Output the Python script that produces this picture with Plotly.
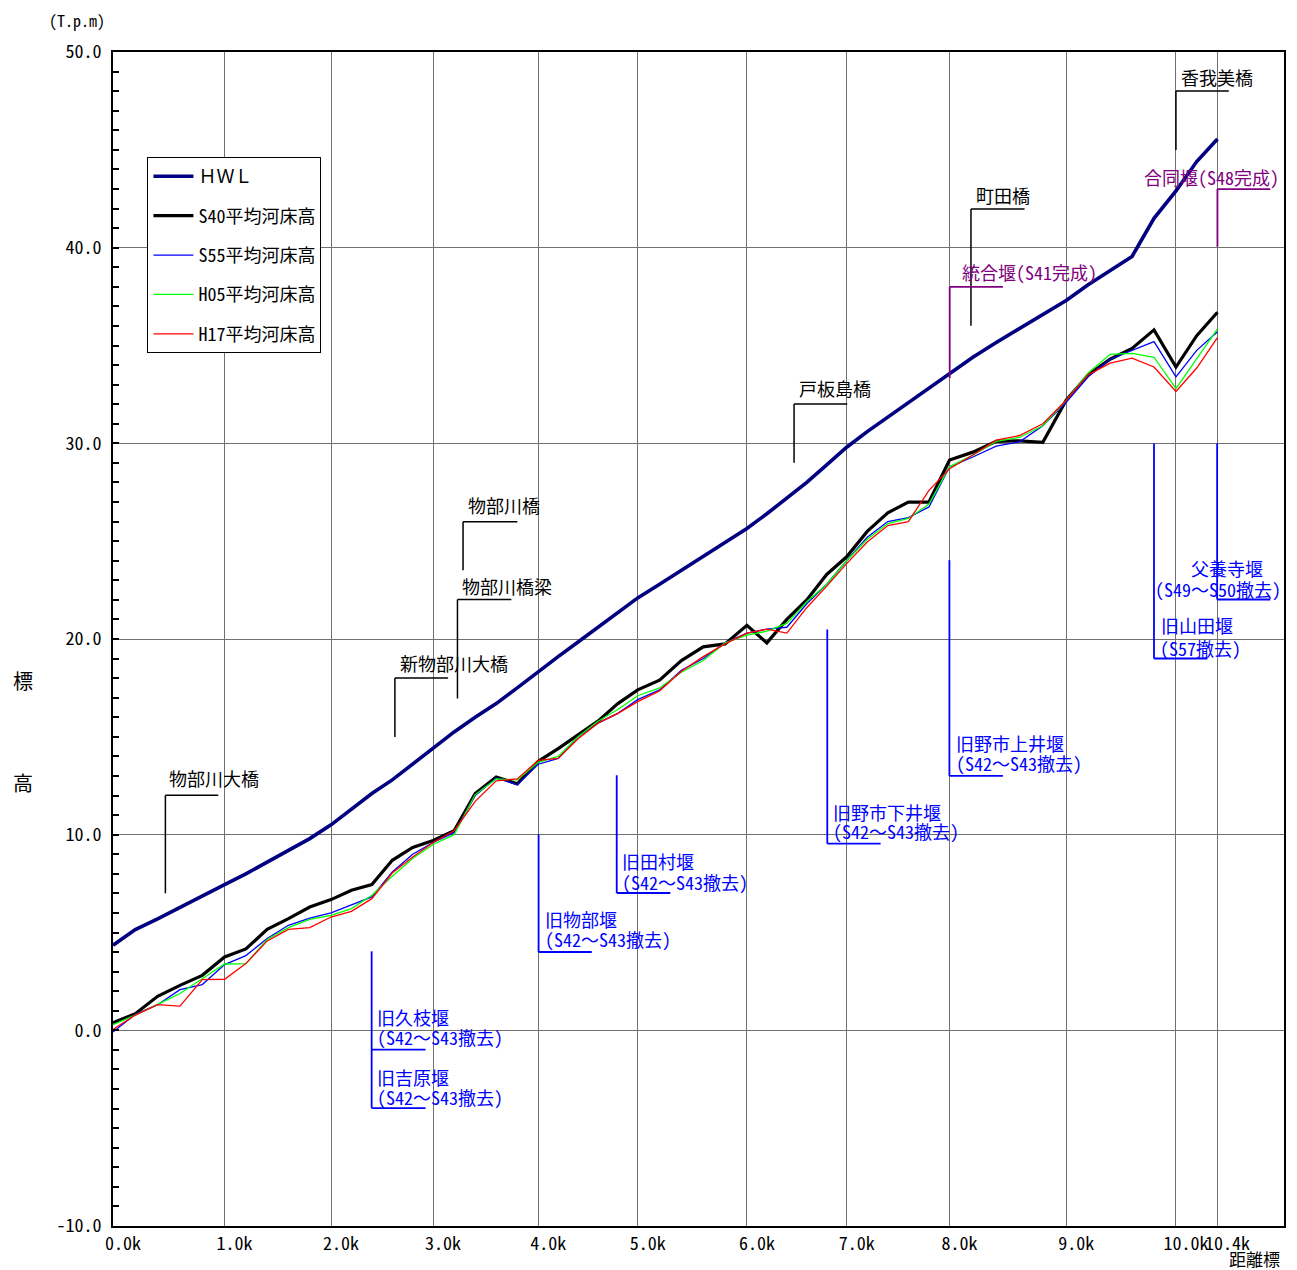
import numpy as np
import plotly.graph_objects as go

# ---------------- data ----------------
km_post = [0.0, 0.2, 0.4, 0.6, 0.8, 1.0, 1.2, 1.4, 1.6, 1.8, 2.0, 2.2, 2.4, 2.6, 2.8,
           3.0, 3.2, 3.4, 3.6, 3.8, 4.0, 4.2, 4.4, 4.6, 4.8, 5.0, 5.2, 5.4, 5.6, 5.8,
           6.0, 6.2, 6.4, 6.6, 6.8, 7.0, 7.2, 7.4, 7.6, 7.8, 8.0, 8.2, 8.4, 8.6, 8.8,
           9.0, 9.2, 9.4, 9.6, 9.8, 10.0, 10.2, 10.4]

hwl = [4.35, 5.15, 5.7, 6.3, 6.9, 7.45, 8.0, 8.6, 9.2, 9.8, 10.5, 11.3, 12.1, 12.8, 13.6,
       14.45, 15.25, 16.0, 16.7, 17.5, 18.35, 19.1, 19.85, 20.6, 21.4, 22.1, 22.8, 23.5, 24.2, 24.9,
       25.65, 26.4, 27.2, 28.0, 28.9, 29.8, 30.6, 31.35, 32.05, 32.8, 33.6, 34.4, 35.15, 35.85, 36.6,
       37.3, 38.1, 38.8, 39.55, 41.5, 42.9, 44.4, 45.55]

s40 = [0.39, 0.85, 1.74, 2.30, 2.81, 3.75, 4.16, 5.16, 5.71, 6.30, 6.68, 7.16, 7.45, 8.69, 9.35,
       9.7, 10.2, 12.1, 12.95, 12.6, 13.75, 14.4, 15.1, 15.8, 16.7, 17.4, 17.9, 18.9, 19.6, 19.75,
       20.7, 19.8, 21.0, 22.0, 23.3, 24.2, 25.5, 26.45, 27.0, 27.0, 29.15, 29.55, 30.1, 30.13, 30.05,
       32.2, 33.5, 34.3, 34.85, 35.8, 33.9, 35.5, 36.7]

s55 = [-0.09, 0.82, 1.31, 2.08, 2.34, 3.36, 3.82, 4.69, 5.37, 5.74, 6.0, 6.43, 6.82, 8.09, 9.0,
       9.6, 10.1, 12.0, 12.9, 12.55, 13.6, 13.9, 15.0, 15.7, 16.2, 16.9, 17.4, 18.4, 19.0, 19.8,
       20.3, 20.5, 20.6, 21.8, 22.8, 24.0, 25.2, 26.0, 26.2, 26.75, 28.8, 29.3, 29.86, 30.08, 30.9,
       32.1, 33.4, 34.3, 34.75, 35.2, 33.4, 34.75, 35.7]

h05 = [0.29, 0.78, 1.33, 1.88, 2.64, 3.39, 3.41, 4.64, 5.25, 5.67, 5.88, 6.22, 6.9, 7.87, 8.78,
       9.5, 10.0, 12.05, 12.85, 12.8, 13.7, 14.0, 15.0, 15.8, 16.4, 17.1, 17.5, 18.3, 18.9, 19.8,
       20.2, 20.4, 20.8, 21.9, 22.8, 24.0, 25.1, 25.9, 26.16, 26.9, 28.8, 29.4, 30.1, 30.3, 30.9,
       32.2, 33.6, 34.55, 34.6, 34.4, 32.8, 34.35, 35.85]

h17 = [0.04, 0.78, 1.31, 1.24, 2.59, 2.61, 3.41, 4.57, 5.16, 5.25, 5.79, 6.08, 6.73, 8.04, 8.86,
       9.6, 10.2, 11.7, 12.75, 12.85, 13.8, 13.9, 14.9, 15.7, 16.2, 16.8, 17.35, 18.35, 19.1, 19.75,
       20.3, 20.5, 20.3, 21.6, 22.7, 23.85, 24.96, 25.8, 26.0, 27.6, 28.7, 29.4, 30.16, 30.4, 31.0,
       32.2, 33.5, 34.1, 34.35, 33.9, 32.65, 33.85, 35.4]

# distance-post labels and their actual positions along the river (km)
tick_km = [0.0, 1.0, 2.0, 3.0, 4.0, 5.0, 6.0, 7.0, 8.0, 9.0, 10.0, 10.4]
tick_pos = [0.0, 1.065, 2.081, 3.055, 4.059, 5.008, 6.050, 7.002, 7.984, 9.097, 10.145, 10.541]
tick_text = ["0.0k", "1.0k", "2.0k", "3.0k", "4.0k", "5.0k", "6.0k", "7.0k", "8.0k", "9.0k",
             "10.0k", "10.4k"]
x_max = 11.176

series_names = ["ＨＷＬ", "S40平均河床高", "S55平均河床高", "H05平均河床高", "H17平均河床高"]
series_vals = [hwl, s40, s55, h05, h17]
series_colors = ["#000080", "#000000", "#0000FF", "#00FF00", "#FF0000"]
series_widths = [3.6, 3.2, 1.3, 1.3, 1.3]

FONT = "Noto Sans Mono CJK JP, Noto Sans CJK JP, sans-serif"

# ---------------- figure ----------------
W, H = 1297, 1270
OFF = 8  # page body margin
L, R, T, B = 112.5, 1286.0, 52.0, 1225.6   # plot area in page pixels

xpos = np.interp(km_post, tick_km, tick_pos)

fig = go.Figure()
for i, (nm, vals, col, w) in enumerate(zip(series_names, series_vals, series_colors, series_widths)):
    fig.add_trace(go.Scatter(x=xpos, y=vals, mode="lines", name=nm,
                             line=dict(color=col, width=w), legendgroup=f"g{i}"))


def px2x(px):
    return (px - L) / (R - L) * x_max


def px2y(py):
    return 50 - (py - T) / (B - T) * 60


shapes = []


def seg(x0, y0, x1, y1, color, width=1.5):
    shapes.append(dict(type="line", xref="x", yref="y",
                       x0=px2x(x0), y0=px2y(y0), x1=px2x(x1), y1=px2y(y1),
                       line=dict(color=color, width=width)))


annotations = []


def label(txt, px, py, color, size=18, anchor="left"):
    annotations.append(dict(text=txt, xref="x", yref="y", x=px2x(px), y=px2y(py),
                            xanchor=anchor, yanchor="middle", showarrow=False,
                            font=dict(family=FONT, size=size, color=color)))


BLK = "#000000"
PUR = "#800080"
BLU = "#0000FF"

# bridges (black)
label("物部川大橋", 167, 778, BLK)
seg(165, 795, 218, 795, BLK); seg(165, 795, 165, 893, BLK)
label("新物部川大橋", 398, 663, BLK)
seg(395, 677.7, 448.3, 677.7, BLK); seg(395, 677.7, 395, 736.7, BLK)
label("物部川橋梁", 460, 586, BLK)
seg(457.7, 599.3, 511.7, 599.3, BLK); seg(457.7, 599.3, 457.7, 698.3, BLK)
label("物部川橋", 466, 505, BLK)
seg(463.3, 521.7, 517.7, 521.7, BLK); seg(463.3, 521.7, 463.3, 570, BLK)
label("戸板島橋", 798, 388, BLK)
seg(795, 404, 848.3, 404, BLK); seg(795, 404, 795, 462.7, BLK)
label("町田橋", 975, 195, BLK)
seg(972.3, 209, 1026, 209, BLK); seg(972.3, 209, 972.3, 325.7, BLK)
label("香我美橋", 1181, 77, BLK)
seg(1177.7, 91, 1230.7, 91, BLK); seg(1177.7, 91, 1177.7, 150, BLK)

# weirs built (purple)
label("統合堰(S41完成)", 961, 271.5, PUR)
seg(951, 286.7, 1004.3, 286.7, PUR, 1.8); seg(951, 286.7, 951, 378, PUR, 1.8)
label("合同堰(S48完成)", 1144, 176.5, PUR)
seg(1219.3, 189, 1272.3, 189, PUR, 1.8); seg(1219.3, 189, 1219.3, 246.7, PUR, 1.8)

# removed weirs (blue)
label("旧久枝堰", 375.5, 1016.5, BLU)
label("(S42～S43撤去)", 375.5, 1036.5, BLU)
label("旧吉原堰", 375.5, 1076.5, BLU)
label("(S42～S43撤去)", 375.5, 1096.5, BLU)
seg(371.7, 951, 371.7, 1107.7, BLU, 1.8)
seg(371.7, 1049.3, 425.7, 1049.3, BLU, 1.8)
seg(371.7, 1107.7, 425.7, 1107.7, BLU, 1.8)

label("旧物部堰", 543, 918.3, BLU)
label("(S42～S43撤去)", 543, 939, BLU)
seg(539, 834, 539, 951.7, BLU, 1.8); seg(539, 951.7, 592.3, 951.7, BLU, 1.8)

label("旧田村堰", 621, 860.7, BLU)
label("(S42～S43撤去)", 621, 881.5, BLU)
seg(617.3, 775, 617.3, 892.7, BLU, 1.8); seg(617.3, 892.7, 671, 892.7, BLU, 1.8)

label("旧野市下井堰", 832, 811.7, BLU)
label("(S42～S43撤去)", 832, 831, BLU)
seg(828.3, 629.3, 828.3, 843.3, BLU, 1.8); seg(828.3, 843.3, 881.7, 843.3, BLU, 1.8)

label("旧野市上井堰", 955, 742.7, BLU)
label("(S42～S43撤去)", 955, 762.7, BLU)
seg(950.7, 560, 950.7, 775.7, BLU, 1.8); seg(950.7, 775.7, 1004.3, 775.7, BLU, 1.8)

label("父養寺堰", 1191, 567.7, BLU)
label("(S49～S50撤去)", 1155, 589.3, BLU)
seg(1219, 443.3, 1219, 599.3, BLU, 1.8); seg(1219, 599.3, 1272.3, 599.3, BLU, 1.8)

label("旧山田堰", 1160.5, 625, BLU)
label("(S57撤去)", 1160, 647.3, BLU)
seg(1155.7, 443.3, 1155.7, 658.3, BLU, 1.8); seg(1155.7, 658.3, 1209.3, 658.3, BLU, 1.8)


# axis titles / units (paper coords)
def paper_label(txt, px, py, size, anchor="center"):
    annotations.append(dict(text=txt, xref="paper", yref="paper",
                            x=(px - L) / (R - L), y=(B - py) / (B - T),
                            xanchor=anchor, yanchor="middle", showarrow=False,
                            font=dict(family=FONT, size=size, color="#000000")))


paper_label("標", 22, 680, 20)
paper_label("高", 22, 782, 20)
paper_label("(T.p.m)", 76, 20, 16)
paper_label("距離標", 1256, 1258, 17)

fig.update_layout(
    width=W - OFF, height=H - OFF,
    margin=dict(l=L - OFF, r=W - R, t=T - OFF, b=H - B, pad=0),
    paper_bgcolor="white", plot_bgcolor="white",
    font=dict(family=FONT, size=16, color="#000000"),
    shapes=shapes, annotations=annotations,
    showlegend=True,
    legend=dict(x=(147 - L) / (R - L), y=(B - 157) / (B - T), xanchor="left", yanchor="top",
                bgcolor="white", bordercolor="#000000", borderwidth=1,
                font=dict(family=FONT, size=18, color="#000000"),
                tracegroupgap=13, itemwidth=40, traceorder="grouped"),
    xaxis=dict(range=[0, x_max], tickmode="array", tickvals=tick_pos, ticktext=tick_text,
               showgrid=True, gridcolor="#707070", gridwidth=1, zeroline=False,
               showline=True, linecolor="#000000", linewidth=2, mirror=True,
               ticks="", tickangle=0, ticklabelshift=10,
               tickfont=dict(family=FONT, size=18, color="#000000")),
    yaxis=dict(range=[-10, 50], tickmode="array", tickvals=[-10, 0, 10, 20, 30, 40, 50],
               ticktext=["-10.0", "0.0", "10.0", "20.0", "30.0", "40.0", "50.0"],
               showgrid=True, gridcolor="#707070", gridwidth=1, zeroline=False,
               showline=True, linecolor="#000000", linewidth=2, mirror=True,
               ticks="inside", ticklen=6, tickcolor="#000000", tickwidth=1.5,
               ticklabelstandoff=6,
               minor=dict(dtick=1, ticks="inside", ticklen=6, tickcolor="#000000", tickwidth=1.5,
                          showgrid=False),
               tickfont=dict(family=FONT, size=18, color="#000000")),
)

fig.write_html("out.html")
